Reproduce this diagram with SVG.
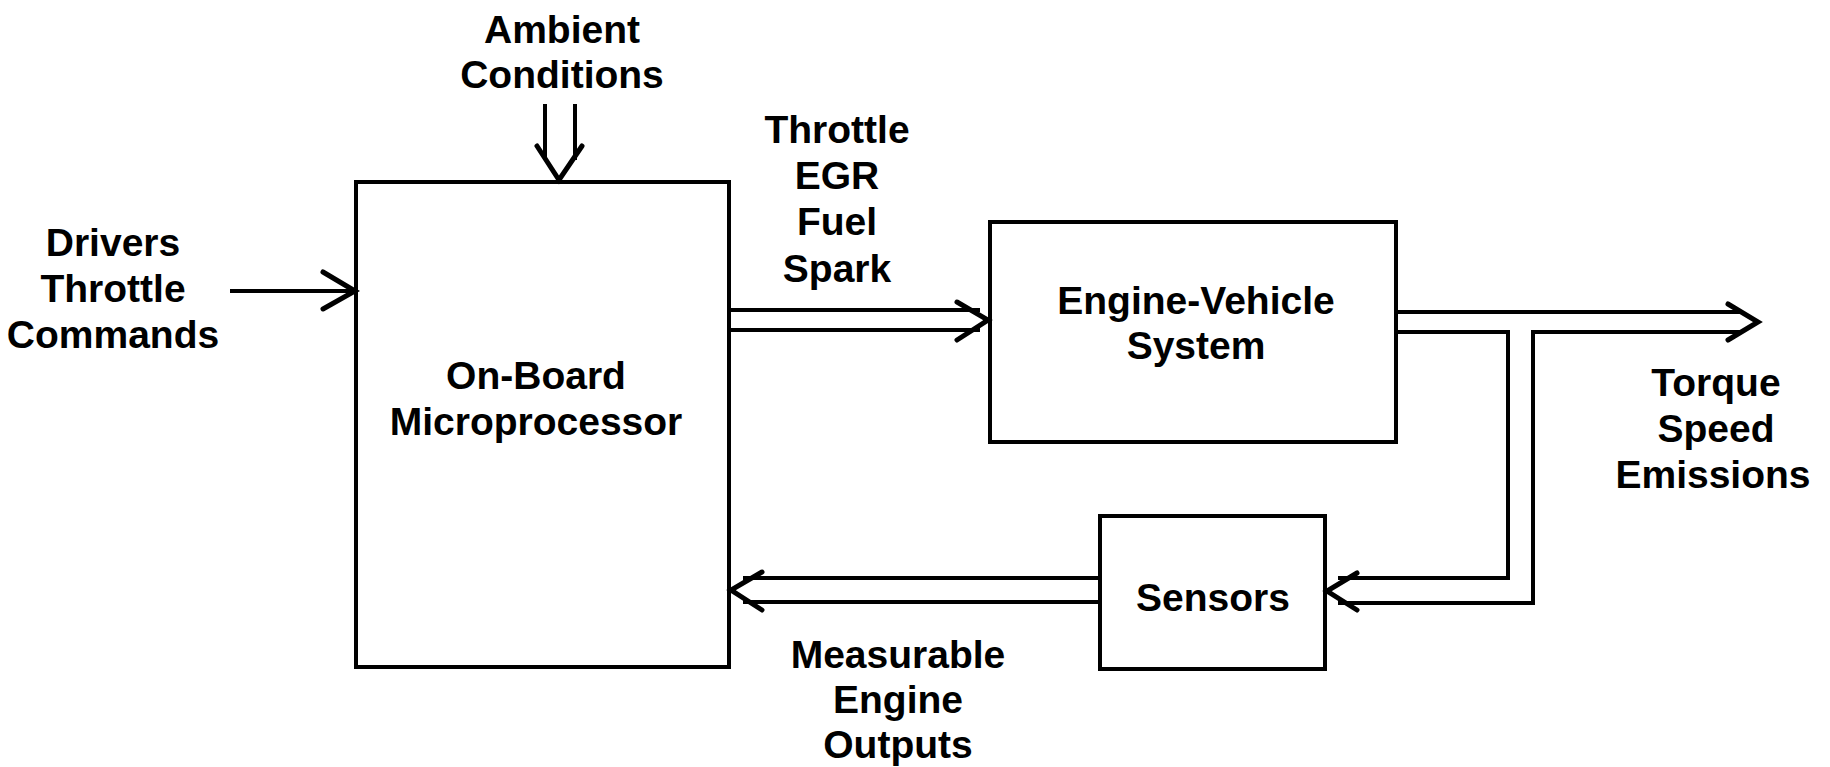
<svg xmlns="http://www.w3.org/2000/svg" width="1830" height="767" viewBox="0 0 1830 767">
<style>
.box{fill:none;stroke:#000;stroke-width:4}
.ln{fill:none;stroke:#000;stroke-width:4;stroke-linejoin:miter;stroke-linecap:square}
.hd{fill:none;stroke:#000;stroke-width:5;stroke-linejoin:miter;stroke-linecap:round}
text{font-family:"Liberation Sans",Arial,sans-serif;font-weight:bold;font-size:39px;text-anchor:middle;fill:#000}
</style>
<rect width="1830" height="767" fill="#fff"/>
<g id="microprocessor">
<rect class="box" x="356" y="182" width="373" height="485"/>
<text x="536" y="389">On-Board</text>
<text x="536" y="435">Microprocessor</text>
</g>
<g id="engine">
<rect class="box" x="990" y="222" width="406" height="220"/>
<text x="1196" y="314">Engine-Vehicle</text>
<text x="1196" y="359">System</text>
</g>
<g id="sensors">
<rect class="box" x="1100" y="516" width="225" height="153"/>
<text x="1213" y="611">Sensors</text>
</g>
<g id="labels">
<text x="562" y="43">Ambient</text>
<text x="562" y="88">Conditions</text>
<text x="113" y="256">Drivers</text>
<text x="113" y="302">Throttle</text>
<text x="113" y="348">Commands</text>
<text x="837" y="143">Throttle</text>
<text x="837" y="189">EGR</text>
<text x="837" y="235">Fuel</text>
<text x="837" y="282">Spark</text>
<text x="1716" y="396">Torque</text>
<text x="1716" y="442">Speed</text>
<text x="1713" y="488">Emissions</text>
<text x="898" y="668">Measurable</text>
<text x="898" y="713">Engine</text>
<text x="898" y="758">Outputs</text>
</g>
<g id="connectors">
<line class="ln" x1="232" y1="291" x2="354" y2="291"/>
<polyline class="hd" points="323,272 355,291 323,309"/>
<line class="ln" x1="545" y1="106" x2="545" y2="158"/>
<line class="ln" x1="575" y1="106" x2="575" y2="158"/>
<polyline class="hd" points="537,146 559,180 582,146"/>
<line class="ln" x1="731" y1="310" x2="978" y2="310"/>
<line class="ln" x1="731" y1="330" x2="978" y2="330"/>
<polyline class="hd" points="957,302 988,320 957,340"/>
<line class="ln" x1="1398" y1="312" x2="1741" y2="312"/>
<line class="ln" x1="1533" y1="332" x2="1741" y2="332"/>
<polyline class="hd" points="1728,304 1758,322 1728,340"/>
<polyline class="ln" points="1398,332 1508,332 1508,578 1340,578"/>
<polyline class="ln" points="1533,332 1533,603 1340,603"/>
<polyline class="hd" points="1357,573 1327,591 1357,610"/>
<line class="ln" x1="1098" y1="578" x2="745" y2="578"/>
<line class="ln" x1="1098" y1="602" x2="745" y2="602"/>
<polyline class="hd" points="762,572 731,590 762,610"/>
</g>
</svg>
